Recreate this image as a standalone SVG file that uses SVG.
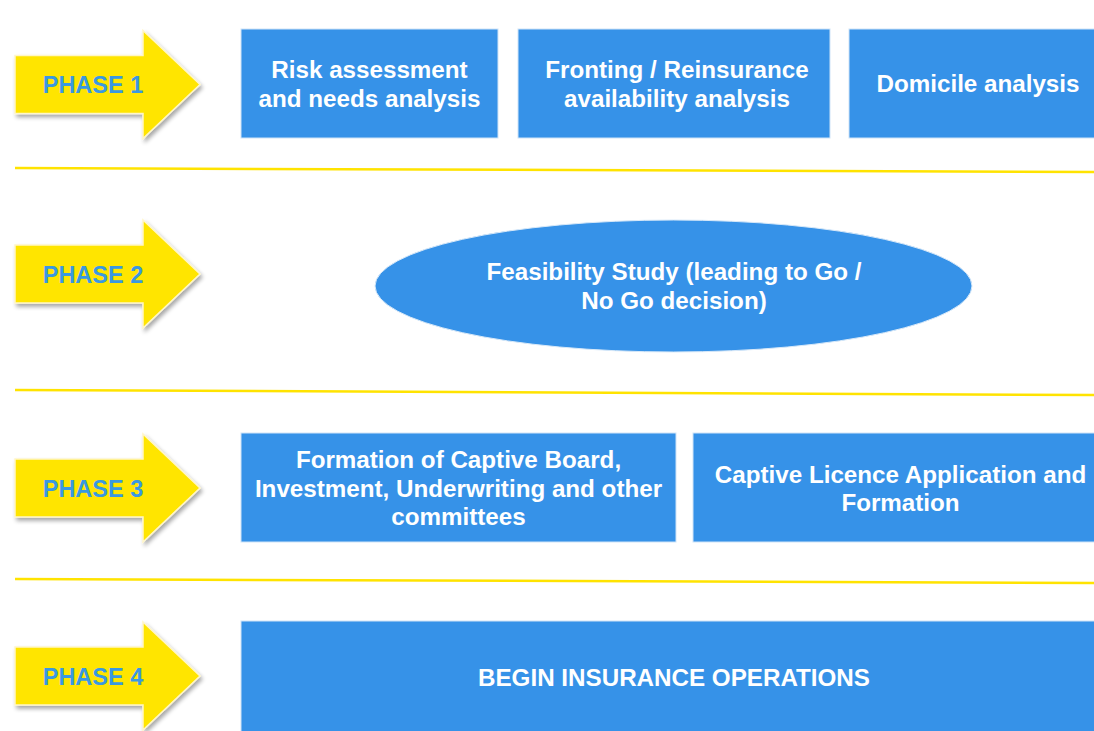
<svg xmlns="http://www.w3.org/2000/svg" width="1094" height="731" viewBox="0 0 1094 731">
  <defs>
    <filter id="arrowShadow" x="-10%" y="-15%" width="125%" height="140%">
      <feGaussianBlur in="SourceAlpha" stdDeviation="2"/>
      <feOffset dx="2" dy="3" result="off"/>
      <feComponentTransfer><feFuncA type="linear" slope="0.35"/></feComponentTransfer>
      <feMerge><feMergeNode/><feMergeNode in="SourceGraphic"/></feMerge>
    </filter>
    <path id="phaseArrow" d="M15,-29 H143 V-54 L200,0 L143,54 V29 H15 Z"/>
  </defs>
  <style>
    .arrow { fill: #FFE500; stroke: #FFF6C8; stroke-width: 1.5; filter: url(#arrowShadow); }
    .phase { font-family: "Liberation Sans", Arial, sans-serif; font-weight: bold; font-size: 23.5px; fill: #3A98E2; text-anchor: middle; }
    .box { fill: #3692E8; stroke: #CFE4F8; stroke-width: 1; }
    .label { font-family: "Liberation Sans", Arial, sans-serif; font-weight: bold; font-size: 24.2px; fill: #FFFFFF; text-anchor: middle; }
    .divider { stroke: #FFE300; stroke-width: 2.5; fill: none; }
  </style>
  <rect width="1094" height="731" fill="#FFFFFF"/>

  <!-- phase dividers -->
  <g id="connectors">
    <line class="divider" x1="15" y1="168" x2="1094" y2="172"/>
    <line class="divider" x1="15" y1="390" x2="1094" y2="395"/>
    <line class="divider" x1="15" y1="579" x2="1094" y2="583"/>
  </g>

  <!-- phase markers -->
  <g id="phase1">
    <use href="#phaseArrow" class="arrow" transform="translate(0,84.5)"/>
    <text class="phase" x="93" y="93">PHASE 1</text>
  </g>
  <g id="phase2">
    <use href="#phaseArrow" class="arrow" transform="translate(0,274)"/>
    <text class="phase" x="93" y="283">PHASE 2</text>
  </g>
  <g id="phase3">
    <use href="#phaseArrow" class="arrow" transform="translate(0,488)"/>
    <text class="phase" x="93" y="497">PHASE 3</text>
  </g>
  <g id="phase4">
    <use href="#phaseArrow" class="arrow" transform="translate(0,676)"/>
    <text class="phase" x="93" y="685">PHASE 4</text>
  </g>

  <!-- phase 1 steps -->
  <g id="risk-assessment">
    <rect class="box" x="241" y="29" width="257" height="109"/>
    <text class="label" x="369.5" y="78">Risk assessment</text>
    <text class="label" x="369.5" y="107">and needs analysis</text>
  </g>
  <g id="fronting">
    <rect class="box" x="518" y="29" width="312" height="109"/>
    <text class="label" x="677" y="78">Fronting / Reinsurance</text>
    <text class="label" x="677" y="107">availability analysis</text>
  </g>
  <g id="domicile">
    <rect class="box" x="849" y="29" width="260" height="109"/>
    <text class="label" x="978" y="92">Domicile analysis</text>
  </g>

  <!-- phase 2 -->
  <g id="feasibility">
    <ellipse cx="673.5" cy="286" rx="298.5" ry="66" fill="#3692E8" stroke="#D8E9F9" stroke-width="1"/>
    <text class="label" x="674" y="280">Feasibility Study (leading to Go /</text>
    <text class="label" x="674" y="309">No Go decision)</text>
  </g>

  <!-- phase 3 steps -->
  <g id="board-formation">
    <rect class="box" x="241" y="433" width="435" height="109"/>
    <text class="label" x="458.5" y="468">Formation of Captive Board,</text>
    <text class="label" x="458.5" y="497">Investment, Underwriting and other</text>
    <text class="label" x="458.5" y="525">committees</text>
  </g>
  <g id="licence">
    <rect class="box" x="693" y="433" width="415" height="109"/>
    <text class="label" x="900.5" y="483">Captive Licence Application and</text>
    <text class="label" x="900.5" y="511">Formation</text>
  </g>

  <!-- phase 4 -->
  <g id="operations">
    <rect class="box" x="241" y="621" width="870" height="120"/>
    <text class="label" x="674" y="686">BEGIN INSURANCE OPERATIONS</text>
  </g>
</svg>
